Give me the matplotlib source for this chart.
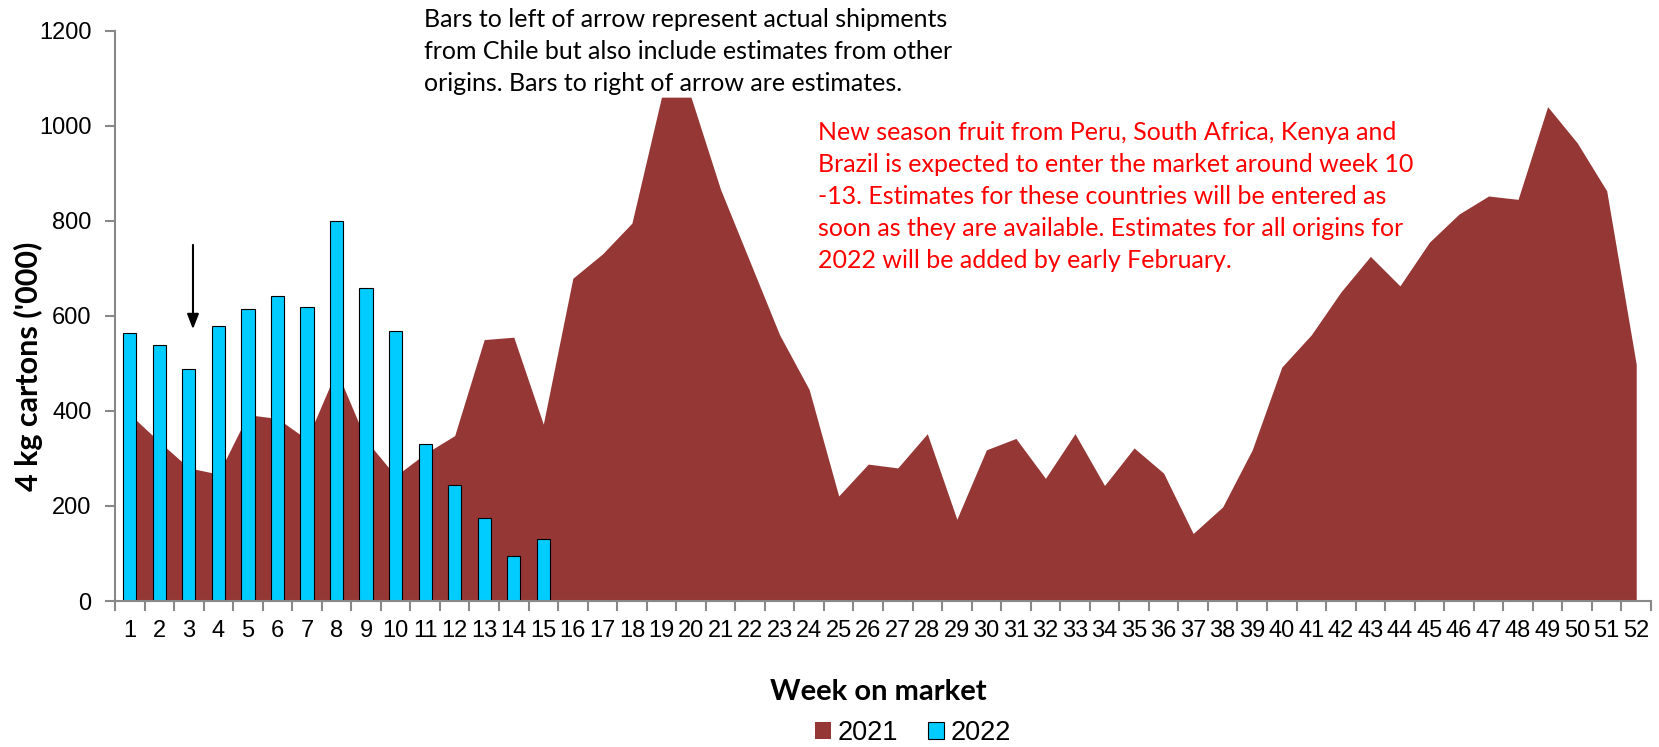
import matplotlib
matplotlib.use("Agg")
import matplotlib.pyplot as plt
from matplotlib.patches import Patch
from matplotlib.ticker import MultipleLocator, FixedLocator
import numpy as np

# weeks on market
weeks = list(range(1, 53))

# 2021 season (area), '000 4 kg cartons
vol_2021 = [393, 335, 280, 267, 392, 384, 340, 485, 338, 263,
            310, 348, 550, 555, 372, 679, 730, 795, 1060, 1060,
            866, 713, 560, 445, 221, 288, 280, 352, 172, 318,
            342, 258, 352, 243, 322, 269, 142, 198, 318, 492,
            560, 650, 725, 663, 755, 814, 852, 845, 1040, 964,
            863, 498]

# 2022 season (bars), weeks 1-15
weeks_2022 = list(range(1, 16))
vol_2022 = [564, 538, 488, 578, 615, 641, 618, 800, 658, 567,
            331, 245, 175, 94, 131]

note_black = ("Bars to left of arrow represent actual shipments\n"
              "from Chile but also include estimates from other\n"
              "origins. Bars to right of arrow are estimates.")
note_red = ("New season fruit from Peru, South Africa, Kenya and\n"
            "Brazil is expected to enter the market around week 10\n"
            "-13. Estimates for these countries will be entered as\n"
            "soon as they are available. Estimates for all origins for\n"
            "2022 will be added by early February.")

red = "#953735"
blue = "#00CCFF"
grey = "#888888"

plt.rcParams["font.family"] = "Liberation Sans"

fig = plt.figure(figsize=(16.59, 7.47), dpi=100)
ax = fig.add_axes([115 / 1659, 1 - 601 / 747, 1536 / 1659, (601 - 30.6) / 747])

ax.fill_between(weeks, vol_2021, 0, color=red, linewidth=0, zorder=1)
ax.bar(weeks_2022, vol_2022, width=0.45, color=blue, edgecolor="black",
       linewidth=0.8, zorder=2)

ax.set_xlim(0.5, 52.5)
ax.set_ylim(0, 1200)
ax.yaxis.set_major_locator(MultipleLocator(200))
ax.set_xticks(weeks)
ax.set_xticklabels([str(w) for w in weeks])
ax.xaxis.set_minor_locator(FixedLocator(np.arange(0.5, 53, 1)))
ax.tick_params(axis="x", which="major", length=0, labelsize=17, pad=14)
ax.tick_params(axis="x", which="minor", length=7, width=1.5, color=grey)
ax.tick_params(axis="y", length=7, width=1.5, color=grey, labelsize=17, pad=10)

for side in ["top", "right"]:
    ax.spines[side].set_visible(False)
for side in ["left", "bottom"]:
    ax.spines[side].set_color(grey)
    ax.spines[side].set_linewidth(1.5)

fig.text(28 / 1659, 1 - 366 / 747, "4 kg cartons ('000)", rotation=90,
         ha="center", va="center", fontsize=22, fontweight="bold", family="Lato")

# arrow marking actual vs estimate
ax.annotate("", xy=(3.14, 566), xytext=(3.14, 755),
            arrowprops=dict(arrowstyle="-|>,head_width=0.35,head_length=0.9",
                            color="black", lw=1.5))

fig.text(424 / 1659, 1 - 8 / 747, note_black, ha="left", va="top",
         fontsize=18, family="Lato", linespacing=1.47)
fig.text(818 / 1659, 1 - 121 / 747, note_red, ha="left", va="top",
         fontsize=18, family="Lato", color="red", linespacing=1.47)

fig.text(878 / 1659, 1 - 692 / 747, "Week on market", ha="center", va="center",
         fontsize=21, fontweight="bold", family="Lato")

handles = [Patch(facecolor=red, edgecolor="none", label="2021"),
           Patch(facecolor=blue, edgecolor="black", linewidth=0.8, label="2022")]
fig.legend(handles=handles, loc="center", bbox_to_anchor=(913 / 1659, 1 - 733 / 747),
           ncol=2, frameon=False, fontsize=19.5, handlelength=0.6, handleheight=0.6,
           handletextpad=0.25, columnspacing=1.1, borderpad=0)

fig.savefig("out.png", dpi=100)
